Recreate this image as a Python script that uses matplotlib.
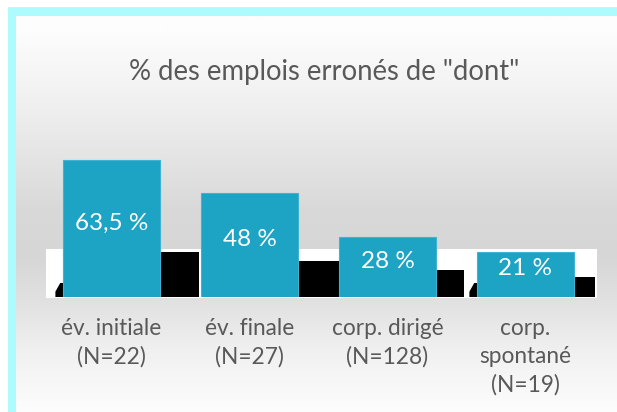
import matplotlib
matplotlib.use("Agg")
import matplotlib.pyplot as plt
import numpy as np
from matplotlib.patches import Rectangle, Polygon

categories = ["év. initiale\n(N=22)", "év. finale\n(N=27)", "corp. dirigé\n(N=128)", "corp.\nspontané\n(N=19)"]
values = [63.5, 48, 28, 21]
value_labels = ["63,5 %", "48 %", "28 %", "21 %"]
title = '% des emplois erronés de "dont"'

# decorative shadow artefacts (tops in data units, widths in slot units)
shadow_top = [20.9, 16.7, 12.5, 9.3]
shadow_w = [0.283, 0.30, 0.203, 0.16]

plt.rcParams['font.family'] = ['Lato', 'DejaVu Sans']

W, H = 617, 412
fig = plt.figure(figsize=(W / 100, H / 100), dpi=100)

# background / decoration axes in pixel coords
bg = fig.add_axes([0, 0, 1, 1])
bg.set_xlim(0, W)
bg.set_ylim(H, 0)
bg.axis('off')
ys = np.arange(H)
ctrl_y = [16, 100, 200, 250, 300, 350, 412]
ctrl_v = [253, 238, 217, 214, 226, 241, 253]
g = np.interp(ys, ctrl_y, ctrl_v) / 255.0
img = np.repeat(g[:, None], 2, axis=1)
bg.imshow(np.dstack([img, img, img]), extent=[16, W, H, 16], aspect='auto', zorder=0)
cyan = '#AEFBFD'
bg.add_patch(Rectangle((8, 8), W - 8, 8, color=cyan, lw=0, zorder=1))
bg.add_patch(Rectangle((8, 8), 8, H - 8, color=cyan, lw=0, zorder=1))
bg.add_patch(Rectangle((8, 7), W - 8, 1, color='#E8E8E8', lw=0, zorder=1))
# white band behind bars
bg.add_patch(Rectangle((46, 249), 551, 49, color='white', lw=0, zorder=2))

# main axes
base_px = 297
ppu = 2.157
ymax = 70
ax_left = 42.5 / W
ax_w = 552 / W
ax_b = (H - base_px) / H
ax_h = ymax * ppu / H
ax = fig.add_axes([ax_left, ax_b, ax_w, ax_h])
ax.patch.set_alpha(0)
ax.set_xlim(-0.5, 3.5)
ax.set_ylim(0, ymax)
x = np.arange(len(values))
bw = 0.703

# shadows
for i in range(len(values)):
    r = i + bw / 2
    ax.add_patch(Rectangle((r, 0), shadow_w[i], shadow_top[i], color='black', lw=0, zorder=1))
for i in (0, 3):
    l = i - bw / 2
    ax.add_patch(Polygon([(l - 0.055, 0), (l - 0.055, 2.5), (l - 0.02, 6.5), (l, 6.5), (l, 0)],
                         closed=True, color='black', lw=0, zorder=1))

bars = ax.bar(x, values, width=bw, color='#1DA3C4', edgecolor='#3FB3D1', linewidth=0.8, zorder=3)
for xi, v, lab in zip(x, values, value_labels):
    ax.text(xi, v / 2 + 2.5, lab, ha='center', va='center', color='white', fontsize=17.5, zorder=4)

for s in ax.spines.values():
    s.set_visible(False)
ax.set_yticks([])
ax.set_xticks(x)
ax.set_xticklabels(categories, color='#595959', fontsize=16.3, linespacing=1.42)
ax.tick_params(axis='x', length=0, pad=15)

fig.text(324 / W, 1 - 72 / H, title, ha='center', va='center', color='#595959', fontsize=19.8)

fig.savefig('out.png', dpi=100)
